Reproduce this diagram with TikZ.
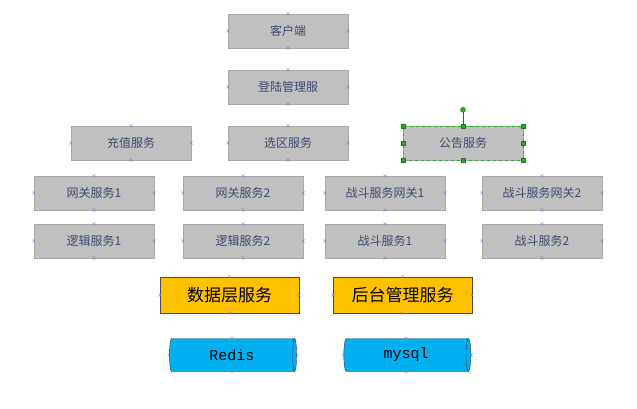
\documentclass[tikz,border=0pt]{standalone}
\usepackage{fontspec}
\newfontfamily\cjk{Noto Sans CJK SC}
\newfontfamily\monofnt{Liberation Mono}
\usetikzlibrary{shapes.geometric}
\definecolor{boxgray}{HTML}{C0C0C0}
\definecolor{boxline}{HTML}{A8A8A8}
\definecolor{txtblue}{HTML}{3C4A6E}
\definecolor{dbgold}{HTML}{FFC000}
\definecolor{dbblue}{HTML}{00B0F0}
\definecolor{pinmark}{HTML}{8080E0}
\definecolor{handle}{HTML}{22B022}
\begin{document}
\begin{tikzpicture}[
        x=1pt, y=-1pt,
        svc/.style={draw=boxline, fill=boxgray, minimum width=120pt, minimum height=34pt,
            inner sep=0pt, text=txtblue, font=\cjk\fontsize{12}{14}\selectfont},
        layer/.style={draw=black!70, fill=dbgold, minimum width=139pt, minimum height=36pt,
            inner sep=0pt, font=\cjk\fontsize{17}{20}\selectfont},
        store/.style={cylinder, shape aspect=0.35, draw=black!80, fill=dbblue,
            minimum width=33pt, minimum height=127pt, inner sep=0pt,
            font=\monofnt\fontsize{15}{18}\selectfont},
        pin/.style={pinmark, line width=0.4pt},
        grip/.style={draw=handle!70!black, fill=handle, minimum size=4pt, inner sep=0pt}
    ]

        % page frame
        \useasboundingbox (0,0) rectangle (637,409);

        % --- upper chain ---
        \node[svc] (client) at (288,31) {客户端};
        \node[svc] (login)  at (288,87) {登陆管理服};

        % --- third row ---
        \node[svc] (pay)    at (131,143) {充值服务};
        \node[svc] (zone)   at (288,143) {选区服务};
        \node[svc] (notice) at (463,143) {公告服务};

        % --- gateways ---
        \node[svc] (gate1)  at (94,193)  {网关服务1};
        \node[svc] (gate2)  at (243,193) {网关服务2};
        \node[svc] (fgate1) at (385,193) {战斗服务网关1};
        \node[svc] (fgate2) at (542,193) {战斗服务网关2};

        % --- logic / fight ---
        \node[svc] (logic1) at (94,241)  {逻辑服务1};
        \node[svc] (logic2) at (243,241) {逻辑服务2};
        \node[svc] (fight1) at (385,241) {战斗服务1};
        \node[svc] (fight2) at (542,241) {战斗服务2};

        % --- layers ---
        \node[layer] (data)  at (229.5,295) {数据层服务};
        \node[layer] (admin) at (402.5,295) {后台管理服务};

        % --- storage ---
        \node[store] (redis) at (232,355) {Redis};
        \node[store] (mysql) at (406,355) {mysql};

        % connection points
        \foreach \n in {client,login,pay,zone,notice,gate1,gate2,fgate1,fgate2,
                        logic1,logic2,fight1,fight2,data,admin,redis,mysql}
            \foreach \a in {north,south,east,west}
                \draw[pin] ([shift={(-1.5,-1.5)}]\n.\a) -- ++(3,3)
                           ([shift={(-1.5,1.5)}]\n.\a) -- ++(3,-3);

        % selection of notice box
        \draw[handle, dashed, line width=0.4pt] (notice.south west) rectangle (notice.north east);
        \draw[handle!70!black] (notice.north) -- ++(0,-16) coordinate (rot);
        \node[grip, circle, minimum size=5pt] at (rot) {};
        \foreach \a in {north west,north,north east,east,south east,south,south west,west}
            \node[grip] at (notice.\a) {};

    \end{tikzpicture}
\end{document}
